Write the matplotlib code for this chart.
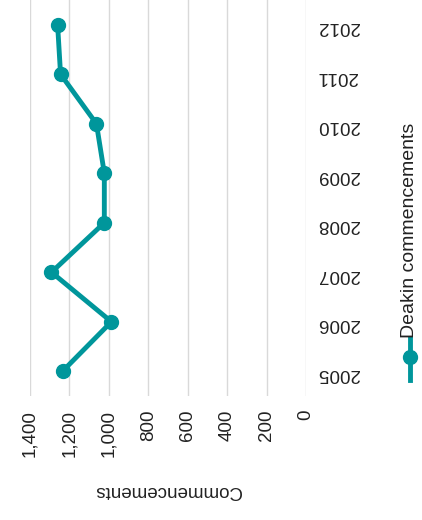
import matplotlib
matplotlib.use('Agg')
import matplotlib.pyplot as plt
from matplotlib.lines import Line2D
from matplotlib.ticker import FuncFormatter

years = [2005, 2006, 2007, 2008, 2009, 2010, 2011, 2012]
commencements = [1235, 987, 1291, 1023, 1023, 1063, 1245, 1260]
color = '#00969B'

plt.rcParams['font.family'] = ['Liberation Sans', 'DejaVu Sans']
fig = plt.figure(figsize=(4.22, 5.20), dpi=100)
ax = fig.add_axes([30/422, 124/520, 276/422, 396/520])

ax.plot(commencements, years, color=color, linewidth=3.5, marker='o', markersize=10)
ax.set_xlim(1400, 0)
ax.set_ylim(2004.5, 2012.5)
ax.set_xticks(range(0, 1401, 200))
ax.xaxis.set_major_formatter(FuncFormatter(lambda v, p: f'{int(v):,}'))
ax.set_yticks(years)
ax.yaxis.tick_right()
ax.grid(axis='x', color='#d9d9d9', linewidth=1)
ax.set_axisbelow(True)
for s in ax.spines.values():
    s.set_visible(False)
ax.tick_params(length=0, labelsize=13.5, colors='#222222')
ax.tick_params(axis='y', pad=8)
ax.tick_params(axis='x', pad=10)
for t in ax.get_xticklabels():
    t.set_rotation(90)
    t.set_va('top')
for t in ax.get_yticklabels():
    t.set_rotation(180)
    t.set_ha('left')

ax.set_xlabel('Commencements', rotation=180, fontsize=13.5, labelpad=18, color='#222222')

fig.add_artist(Line2D([410/422, 410/422], [140/520, 182/520], color=color, linewidth=3.5))
fig.add_artist(Line2D([410/422], [163/520], color=color, marker='o', markersize=10))
fig.text(410/422, 182/520, 'Deakin commencements', rotation=90, fontsize=14,
         ha='center', va='bottom', color='#222222')

fig.savefig('out.png', dpi=100)
